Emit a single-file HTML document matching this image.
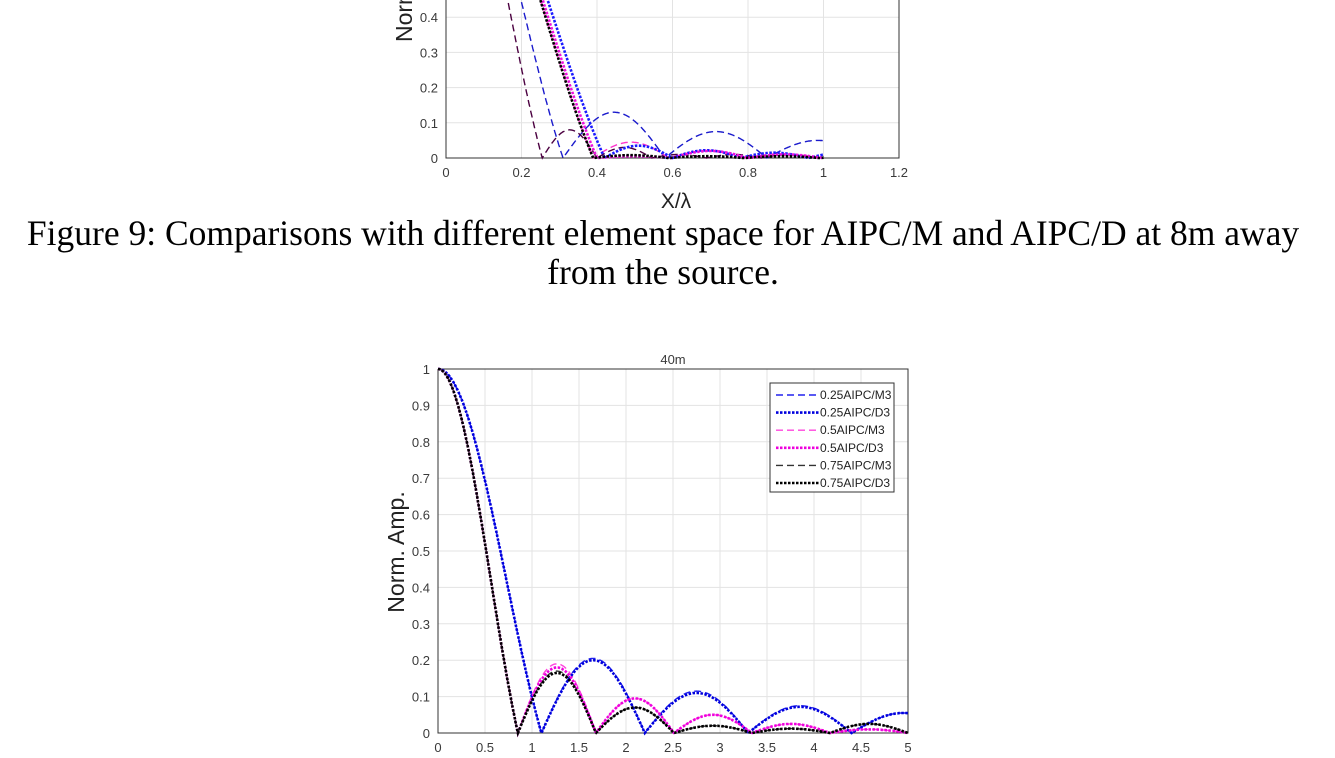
<!DOCTYPE html>
<html><head><meta charset="utf-8"><style>
html,body{margin:0;padding:0;background:#fff;width:1335px;height:758px;overflow:hidden}
svg{display:block}
.t{font-family:"Liberation Sans",sans-serif;font-size:13px;fill:#3a3a3a}
.cap{font-family:"Liberation Serif",serif;font-size:35.5px;fill:#000}
</style></head><body>
<svg id="s" width="1335" height="758" xmlns="http://www.w3.org/2000/svg">
<rect width="1335" height="758" fill="#fff"/>
<text class="cap" x="663" y="245" text-anchor="middle">Figure 9: Comparisons with different element space for AIPC/M and AIPC/D at 8m away</text>
<text class="cap" x="663" y="284" text-anchor="middle">from the source.</text>
<text x="676" y="208" text-anchor="middle" style="font-family:'Liberation Sans',sans-serif;font-size:21px;fill:#222">X/λ</text>
<text transform="translate(412,42) rotate(-90)" style="font-family:'Liberation Sans',sans-serif;font-size:23px;fill:#222">Norm</text>
<text transform="translate(404,552) rotate(-90)" text-anchor="middle" style="font-family:'Liberation Sans',sans-serif;font-size:23px;fill:#222">Norm. Amp.</text>
<text x="673" y="364" text-anchor="middle" class="t">40m</text>
<g id="g"></g>
</svg>
<script>
var g=document.getElementById('g'),h='';
function sinc(u){return u==0?1:Math.sin(Math.PI*u)/(Math.PI*u);}
function f(x,z1,d,a){if(x<z1)return sinc(x/z1);var n=Math.floor((x-z1)/d);var A=a[Math.min(n,a.length-1)];return A*Math.abs(Math.sin(Math.PI*(x-z1-n*d)/d));}
function plot(P){
 var X=v=>P.x0+v*P.sx,Y=v=>P.y0-v*P.sy;
 for(var i=0;i<=P.nx;i++){var v=i*P.dx,px=X(v);h+='<line x1="'+px+'" y1="'+P.top+'" x2="'+px+'" y2="'+P.y0+'" stroke="#e3e3e3"/>';h+='<text class="t" x="'+px+'" y="'+(P.y0+19)+'" text-anchor="middle">'+P.fx(v)+'</text>';}
 for(var j=0;j<=P.ny;j++){var v=j*0.1,py=Y(v);if(py<P.top-1)continue;h+='<line x1="'+P.x0+'" y1="'+py+'" x2="'+P.x1+'" y2="'+py+'" stroke="#e3e3e3"/>';h+='<text class="t" x="'+(P.x0-8)+'" y="'+(py+5)+'" text-anchor="end">'+(j==0?'0':j==10?'1':(v).toFixed(1))+'</text>';}
 h+='<path d="M'+P.x0+' '+P.top+'V'+P.y0+'H'+P.x1+'V'+P.top+(P.closed?'H'+P.x0:'')+'" fill="none" stroke="#333" stroke-width="1"/>';
 P.series.forEach(function(s){var d='',N=600;for(var k=0;k<=N;k++){var x=P.xmax*k/N,y=f(x,s[1],s[2],s[3]);var py=Y(y);if(py<P.top){d='';continue;}d+=(d?'L':'M')+X(x).toFixed(1)+' '+py.toFixed(1);}
  h+='<path d="'+d+'" fill="none" stroke="'+s[0]+'" stroke-width="'+(s[4]?2.6:1.4)+'" stroke-dasharray="'+(s[4]?'2.5,1.5':'7,4')+'"/>';});
}
plot({x0:446,x1:899,y0:158,top:0,sx:377.5,sy:352,nx:6,dx:0.2,ny:4,xmax:1,closed:false,fx:v=>v==0?'0':v>0.99&&v<1.01?'1':v.toFixed(1),
series:[['#1a1acc',0.31,0.27,[0.13,0.075,0.05]],['#4b0040',0.255,0.145,[0.08,0.03,0.01]],['#ff33cc',0.39,0.2,[0.045,0.02,0.012]],
['#1a1aff',0.42,0.18,[0.035,0.022,0.015],1],['#ee11dd',0.4,0.2,[0.005,0.02,0.01],1],['#000',0.39,0.2,[0.008,0.005,0.005],1]]});
plot({x0:438,x1:908,y0:733,top:369,sx:94,sy:364,nx:10,dx:0.5,ny:10,xmax:5,closed:true,fx:v=>String(v),
series:[['#2222ee',1.1,1.1,[0.205,0.115,0.075,0.055]],['#ff44dd',0.85,0.83,[0.19,0.095,0.05,0.025,0.01]],['#333',0.85,0.83,[0.17,0.07,0.02,0.012,0.025]],
['#0000dd',1.1,1.1,[0.2,0.11,0.072,0.055],1],['#ee00dd',0.85,0.83,[0.18,0.095,0.05,0.025,0.01],1],['#000',0.85,0.83,[0.165,0.07,0.02,0.012,0.025],1]]});
h+='<rect x="770" y="383" width="124" height="109" fill="#fff" stroke="#333"/>';
var L=[['0.25AIPC/M3','#2222ee',0],['0.25AIPC/D3','#0000dd',1],['0.5AIPC/M3','#ff44dd',0],['0.5AIPC/D3','#ee00dd',1],['0.75AIPC/M3','#333',0],['0.75AIPC/D3','#000',1]];
L.forEach(function(l,i){var y=395+i*17.6;h+='<line x1="776" y1="'+y+'" x2="819" y2="'+y+'" stroke="'+l[1]+'" stroke-width="'+(l[2]?2.6:1.4)+'" stroke-dasharray="'+(l[2]?'2.5,1.5':'7,4')+'"/>';h+='<text x="820" y="'+(y+4)+'" style="font-family:Liberation Sans,sans-serif;font-size:12px;fill:#222">'+l[0]+'</text>';});
g.innerHTML=h;
</script>
</body></html>
